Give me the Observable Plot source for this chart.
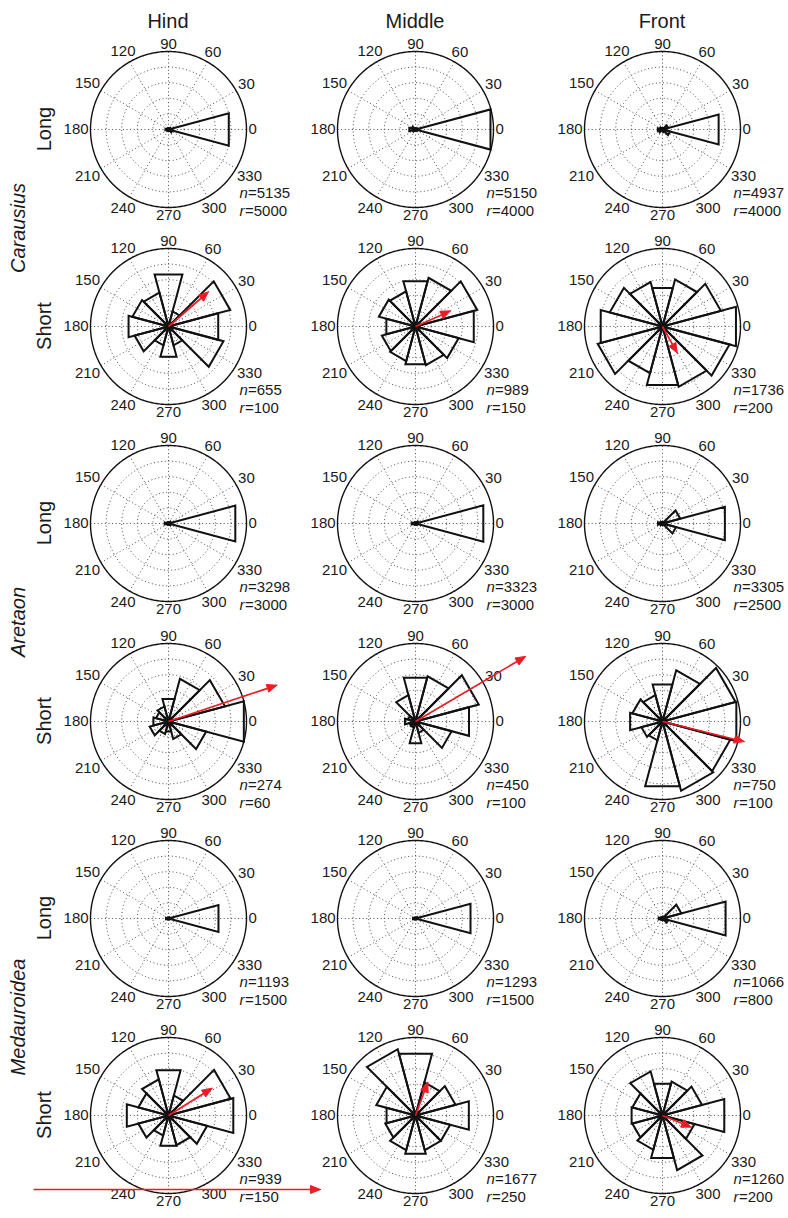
<!DOCTYPE html>
<html><head><meta charset="utf-8">
<script src="https://cdn.jsdelivr.net/npm/d3@7"></script>
<script src="https://cdn.jsdelivr.net/npm/@observablehq/plot@0.6"></script>
<style>
body{margin:0;background:#fff;}
#fig{position:relative;width:788px;height:1218px;overflow:hidden;font-family:"Liberation Sans",Arial,sans-serif;color:#1a1a1a;}
.hdr{position:absolute;font-size:20px;transform:translate(-50%,-50%);white-space:nowrap;line-height:1;}
.rot{position:absolute;font-size:20px;transform:translate(-50%,-50%) rotate(-90deg);white-space:nowrap;line-height:1;}
.panel{position:absolute;}
</style></head><body><div id="fig"></div>
<script>
// ---------------- data ----------------
const legs = ["Hind", "Middle", "Front"];
const stepTypes = ["Long", "Short"];
const species = ["Carausius", "Aretaon", "Medauroidea"];
const binAngles = [0, 30, 60, 90, 120, 150, 180, 210, 240, 270, 300, 330];
const tickLabels = ["0", "30", "60", "90", "120", "150", "180", "210", "240", "270", "300", "330"];

// bin counts (bins centred on binAngles)
const carausiusLongHind   = [4000, 150, 60, 60, 60, 100, 200, 120, 60, 60, 100, 250];
const carausiusLongMiddle = [3980, 100, 40, 40, 60, 200, 330, 150, 40, 40, 60, 100];
const carausiusLongFront  = [2980, 300, 80, 60, 80, 150, 250, 200, 80, 60, 150, 400];
const carausiusShortHind   = [66, 82, 20, 69, 45, 48, 53, 45, 25, 40, 25, 73];
const carausiusShortMiddle = [116, 123, 97, 90, 70, 73, 58, 67, 69, 75, 77, 86];
const carausiusShortFront  = [195, 155, 125, 102, 118, 140, 164, 172, 124, 155, 160, 178];
const aretaonLongHind   = [2660, 100, 30, 30, 30, 60, 150, 60, 30, 30, 40, 100];
const aretaonLongMiddle = [2700, 120, 30, 30, 30, 60, 150, 60, 30, 30, 30, 80];
const aretaonLongFront  = [2070, 590, 60, 40, 40, 80, 150, 80, 40, 40, 60, 450];
const aretaonShortHind   = [60, 45, 34, 18, 12, 10, 12, 15, 10, 8, 14, 30];
const aretaonShortMiddle = [71, 84, 60, 58, 35, 10, 14, 8, 8, 29, 15, 48];
const aretaonShortFront  = [98, 97, 68, 49, 35, 40, 43, 28, 25, 86, 92, 90];
const medauroideaLongHind   = [995, 30, 10, 10, 10, 20, 50, 20, 10, 10, 10, 20];
const medauroideaLongMiddle = [1095, 40, 10, 10, 10, 20, 50, 20, 10, 10, 10, 20];
const medauroideaLongFront  = [670, 200, 20, 10, 10, 20, 40, 20, 10, 10, 20, 60];
const medauroideaShortHind   = [129, 124, 40, 90, 72, 60, 83, 60, 40, 60, 59, 77];
const medauroideaShortMiddle = [177, 133, 110, 205, 220, 130, 96, 100, 115, 127, 115, 115];
const medauroideaShortFront  = [164, 105, 90, 84, 117, 80, 82, 80, 91, 113, 145, 85];

// sample sizes and outer ring values, row order: C-Long, C-Short, A-Long, A-Short, M-Long, M-Short
const nValues = [[5135, 5150, 4937], [655, 989, 1736], [3298, 3323, 3305], [274, 450, 750], [1193, 1293, 1066], [939, 1677, 1260]];
const rValues = [[5000, 4000, 4000], [100, 150, 200], [3000, 3000, 2500], [60, 100, 100], [1500, 1500, 800], [150, 250, 200]];
// mean vector (direction in degrees, length in count units) for short steps
const arrowAngles  = [[41, 24, -61], [18.5, 30.6, -13.8], [32, 69.7, -22]];
const arrowLengths = [[68, 74, 78], [88, 164, 108], [99, 114, 80]];
const scaleArrow = [0, 1];

const counts = [
  [carausiusLongHind, carausiusLongMiddle, carausiusLongFront],
  [carausiusShortHind, carausiusShortMiddle, carausiusShortFront],
  [aretaonLongHind, aretaonLongMiddle, aretaonLongFront],
  [aretaonShortHind, aretaonShortMiddle, aretaonShortFront],
  [medauroideaLongHind, medauroideaLongMiddle, medauroideaLongFront],
  [medauroideaShortHind, medauroideaShortMiddle, medauroideaShortFront]
];

// ---------------- layout ----------------
const colX = [168, 415, 662];
const rowY = [129, 326, 523, 721, 918, 1115];
const PX = 78;               // circle radius in px
const W = 232, H = 196, CX = 107, CY = 98;
const RED = "#ec1c24";
const rad = d => d * Math.PI / 180;

function headPolygon(ang, len, k) {
  const a = rad(ang), hl = 10 * k, hw = 4 * k;
  const tx = len * Math.cos(a), ty = len * Math.sin(a);
  const bx = tx - hl * Math.cos(a), by = ty - hl * Math.sin(a);
  const px = -Math.sin(a) * hw, py = Math.cos(a) * hw;
  return {shaft: {x2: bx, y2: by}, pts: [{x: tx, y: ty}, {x: bx + px, y: by + py}, {x: bx - px, y: by - py}, {x: tx, y: ty}]};
}

function panel(vals, R, n, arrow) {
  const k = R / PX;
  const ringPts = [];
  [0.2, 0.4, 0.6, 0.8].forEach(f => {
    for (let a = 0; a <= 360; a += 2) ringPts.push({ring: f, x: f * R * Math.cos(rad(a)), y: f * R * Math.sin(rad(a))});
  });
  const outer = [];
  for (let a = 0; a <= 360; a += 1) outer.push({x: R * Math.cos(rad(a)), y: R * Math.sin(rad(a))});
  const spokes = binAngles.slice(0, 6).map(a => ({x1: -R * Math.cos(rad(a)), y1: -R * Math.sin(rad(a)), x2: R * Math.cos(rad(a)), y2: R * Math.sin(rad(a))}));
  const wedges = [];
  vals.forEach((v, i) => {
    const a = binAngles[i];
    wedges.push({bin: i, x: 0, y: 0});
    wedges.push({bin: i, x: v * Math.cos(rad(a - 15)), y: v * Math.sin(rad(a - 15))});
    wedges.push({bin: i, x: v * Math.cos(rad(a + 15)), y: v * Math.sin(rad(a + 15))});
    wedges.push({bin: i, x: 0, y: 0});
  });
  const ticks = binAngles.map((a, i) => {
    const t = tickLabels[i];
    const rp = 80 + 4.15 * t.length * Math.abs(Math.cos(rad(a))) + 5.5 * Math.abs(Math.sin(rad(a)));
    return {x: rp * k * Math.cos(rad(a)), y: rp * k * Math.sin(rad(a)), text: t};
  });
  const marks = [
    Plot.line(ringPts, {x: "x", y: "y", z: "ring", stroke: "#3a3a3a", strokeWidth: 0.9, strokeDasharray: "1,2.6", strokeLinecap: "butt"}),
    Plot.link(spokes, {x1: "x1", y1: "y1", x2: "x2", y2: "y2", stroke: "#3a3a3a", strokeWidth: 0.9, strokeDasharray: "1,2.6", strokeLinecap: "butt"}),
    Plot.line(outer, {x: "x", y: "y", stroke: "#111", strokeWidth: 1.4}),
    Plot.line(wedges, {x: "x", y: "y", z: "bin", stroke: "#111", strokeWidth: 2, strokeLinejoin: "miter", strokeMiterlimit: 4}),
    Plot.text(ticks, {x: "x", y: "y", text: "text", fontSize: 15, fill: "#1a1a1a"}),
    Plot.text([{x: 71 * k, y: -64 * k, t: "n"}, {x: 71 * k, y: -81.5 * k, t: "r"}], {x: "x", y: "y", text: "t", fontSize: 15, fontStyle: "italic", textAnchor: "start", fill: "#1a1a1a"}),
    Plot.text([{x: 79.5 * k, y: -64 * k, t: "=" + n}, {x: 76.5 * k, y: -81.5 * k, t: "=" + R}], {x: "x", y: "y", text: "t", fontSize: 15, textAnchor: "start", fill: "#1a1a1a"})
  ];
  if (arrow) {
    const h = headPolygon(arrow[0], arrow[1], k);
    marks.push(Plot.link([{x1: 0, y1: 0, x2: h.shaft.x2, y2: h.shaft.y2}], {x1: "x1", y1: "y1", x2: "x2", y2: "y2", stroke: RED, strokeWidth: 1.7}));
    marks.push(Plot.line(h.pts, {x: "x", y: "y", stroke: RED, fill: RED, strokeWidth: 1, strokeLinejoin: "miter"}));
  }
  return Plot.plot({
    width: W, height: H, margin: 0,
    x: {type: "linear", domain: [-CX * k, (W - CX) * k], range: [0, W], axis: null},
    y: {type: "linear", domain: [-(H - CY) * k, CY * k], range: [H, 0], axis: null},
    style: {overflow: "visible", background: "none", fontFamily: "'Liberation Sans', Arial, sans-serif"},
    marks
  });
}

const fig = document.getElementById("fig");
function addDiv(cls, text, x, y, italic) {
  const d = document.createElement("div");
  d.className = cls;
  d.textContent = text;
  d.style.left = x + "px";
  d.style.top = y + "px";
  if (italic) d.style.fontStyle = "italic";
  fig.appendChild(d);
}

legs.forEach((l, c) => addDiv("hdr", l, colX[c], 21));
rowY.forEach((cy, r) => {
  addDiv("rot", stepTypes[r % 2], 44, cy);
  colX.forEach((cx, c) => {
    const sp = Math.floor(r / 2);
    const arrow = r % 2 === 1 ? [arrowAngles[sp][c], arrowLengths[sp][c]] : null;
    const svg = panel(counts[r][c], rValues[r][c], nValues[r][c], arrow);
    const wrap = document.createElement("div");
    wrap.className = "panel";
    wrap.style.left = (cx - CX) + "px";
    wrap.style.top = (cy - CY) + "px";
    wrap.appendChild(svg);
    fig.appendChild(wrap);
  });
});
species.forEach((s, i) => addDiv("rot", s, 18, (rowY[2 * i] + rowY[2 * i + 1]) / 2, true));

// scale arrow at the bottom
{
  const k = 1 / 287;
  const h = headPolygon(0, 1, k);
  const svg = Plot.plot({
    width: 788, height: 16, margin: 0,
    x: {type: "linear", domain: [0, 1], range: [33, 320], axis: null},
    y: {type: "linear", domain: [-8 * k, 8 * k], range: [16, 0], axis: null},
    style: {overflow: "visible", background: "none"},
    marks: [
      Plot.link([{x1: scaleArrow[0], y1: 0, x2: h.shaft.x2, y2: 0}], {x1: "x1", y1: "y1", x2: "x2", y2: "y2", stroke: RED, strokeWidth: 1.5}),
      Plot.line(h.pts, {x: "x", y: "y", stroke: RED, fill: RED, strokeWidth: 1})
    ]
  });
  const wrap = document.createElement("div");
  wrap.className = "panel";
  wrap.style.left = "0px";
  wrap.style.top = (1189 - 8) + "px";
  wrap.appendChild(svg);
  fig.appendChild(wrap);
}
</script></body></html>
